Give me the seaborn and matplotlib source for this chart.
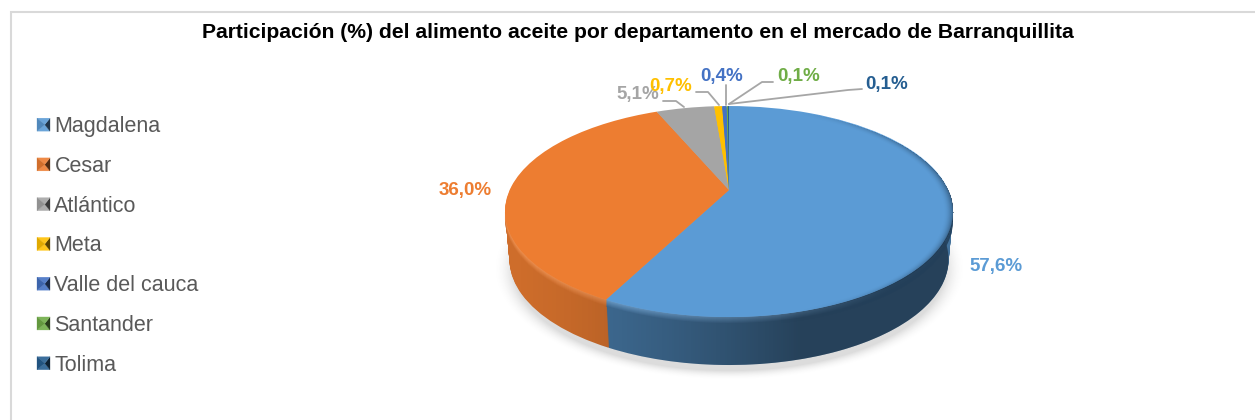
import numpy as np
import matplotlib
matplotlib.use("Agg")
import matplotlib.pyplot as plt
import seaborn as sns
from matplotlib.patches import Polygon
from matplotlib.transforms import Transform
from matplotlib.legend_handler import HandlerBase

title = "Participación (%) del alimento aceite por departamento en el mercado de Barranquillita"
departamentos = ["Magdalena", "Cesar", "Atlántico", "Meta", "Valle del cauca", "Santander", "Tolima"]
participacion = [57.6, 36.0, 5.1, 0.7, 0.4, 0.1, 0.1]
etiquetas = ["57,6%", "36,0%", "5,1%", "0,7%", "0,4%", "0,1%", "0,1%"]
colores = ["#5B9BD5", "#ED7D31", "#A5A5A5", "#FFC000", "#4472C4", "#70AD47", "#255E91"]

sns.set_theme(style="white")
plt.rcParams["font.family"] = ["Liberation Sans", "DejaVu Sans"]
palette = sns.color_palette(colores)

W, H = 1255, 420
fig = plt.figure(figsize=(W / 100, H / 100), dpi=100, facecolor="white")
ax = fig.add_axes([0, 0, 1, 1])


class Persp(Transform):
    """Projective view of the unit-circle pie into figure pixels."""
    input_dims = output_dims = 2
    is_separable = False
    has_inverse = False

    def __init__(self, dy=0.0, shrink=1.0):
        super().__init__()
        self.dy, self.shrink = dy, shrink

    def transform_non_affine(self, xy):
        xy = np.asarray(xy, float)
        d = 1 + 0.204 * xy[:, 1]
        return np.column_stack((729 + 219.3 * self.shrink * xy[:, 0] / d,
                                190 + self.dy - 101.1 * xy[:, 1] / d))


def mix(c, other, t):
    return tuple((1 - t) * np.array(c) + t * np.array(other))


def draw_pie(dy, shrink, color_fn, z):
    wedges, _ = ax.pie(participacion, startangle=90, counterclock=False, colors=palette)
    for i, (w, c) in enumerate(zip(wedges, palette)):
        w.set_facecolor(color_fn(i, c))
        w.set_edgecolor("none")
        w.set_linewidth(0)
        w.set_transform(Persp(dy, shrink) + ax.transData)
        w.set_zorder(z)
    return wedges


side_dark = [0.27, 0.13, 0.2, 0.2, 0.2, 0.2, 0.2]

# soft shadow below the disc
yy, xx = np.mgrid[0:H, 0:W]
dist = np.hypot((xx - 729) / 226.0, (yy - 268) / 107.0)
shadow = np.zeros((H, W, 4))
shadow[..., :3] = 0.55
shadow[..., 3] = np.clip((1.045 - dist) / 0.09, 0, 1) ** 2 * 0.30
ax.imshow(shadow, extent=(0, W, H, 0), zorder=0, interpolation="bilinear")

# side wall: stack of pies from the lower face upward
DEPTH = 48
for d in np.arange(DEPTH, 7, -1.0):
    s = 1 - 0.02 * np.clip(d / DEPTH, 0, 1)
    draw_pie(d, s, lambda i, c: mix(c, (0, 0, 0), side_dark[i]), 1)
# bevel under the top face
for d in np.arange(7, 0, -1.0):
    t = d / 7
    draw_pie(d, 1.0, lambda i, c, t=t: mix(mix(c, (1, 1, 1), 0.16), mix(c, (0, 0, 0), side_dark[i]), t), 2)

# darkening of the wall toward the right
grad_x = np.clip((np.arange(W) - 510) / 290.0, 0, 1) ** 1.4
shade = np.zeros((2, W, 4))
shade[..., 3] = grad_x * 0.42
ang = np.linspace(0, -np.pi, 200)
band_top = Persp().transform_non_affine(np.column_stack((np.cos(ang), np.sin(ang))))
band_low = band_top[::-1] + np.array([0, DEPTH])
band_low[:, 0] = 729 + (band_low[:, 0] - 729) * 0.98
clip_poly = Polygon(np.vstack((band_top, band_low)), closed=True, transform=ax.transData,
                    fc="none", ec="none")
ax.add_patch(clip_poly)
img = ax.imshow(shade, extent=(0, W, 400, 100), zorder=3, aspect="auto")
img.set_clip_path(clip_poly)

# the bevel itself fades into the dark wall at the right end
bevel_low = band_top[::-1] + np.array([0, 9])
bevel_poly = Polygon(np.vstack((band_top, bevel_low)), closed=True, transform=ax.transData,
                     fc="none", ec="none")
ax.add_patch(bevel_poly)
bevel_shade = np.zeros((2, W, 4))
bevel_shade[..., :3] = np.array([0.14, 0.25, 0.35])
bevel_shade[..., 3] = np.clip((np.arange(W) - 780) / 110.0, 0, 1) * 0.9
img2 = ax.imshow(bevel_shade, extent=(0, W, 400, 100), zorder=3.5, aspect="auto")
img2.set_clip_path(bevel_poly)

# top face
draw_pie(0, 1.0, lambda i, c: c, 4)

# right edge shading on the top face
edge = np.zeros((H, W, 4))
ed = np.hypot((xx - 729) / 224.0, (yy - 212) / 105.5)
edge[..., 3] = (np.clip((ed - 0.955) / 0.045, 0, 1) ** 2 * np.clip((xx - 800) / 150.0, 0, 1) * 0.6
                * (ed <= 1.0))
edge[..., :3] = np.array([0.12, 0.22, 0.32])
ax.imshow(edge, extent=(0, W, H, 0), zorder=5, interpolation="nearest")

ax.set_aspect("auto")
ax.set_xlim(0, W)
ax.set_ylim(H, 0)
ax.axis("off")

# chart frame
grey = "#D9D9D9"
ax.plot([10.5, 10.5, 1255], [420, 11.5, 11.5], color=grey, lw=1.5, solid_joinstyle="miter", zorder=6)

ax.text(637.5, 32, title, ha="center", va="center", fontsize=15.23, fontweight="bold",
        color="black", zorder=8)

# leader lines
lideres = [
    [(684, 107), (676, 101), (663, 101)],
    [(719, 105), (708, 92), (696, 92)],
    [(726, 105), (726, 85)],
    [(729, 104), (762, 82), (773, 82)],
    [(729, 104), (848, 90), (862, 89)],
]
for seg in lideres:
    xs, ys = zip(*seg)
    ax.plot(xs, ys, color="#A6A6A6", lw=1.3, zorder=6)

# data labels
pos = [(996, 266), (465, 190), (638, 95), (671, 86), (722, 76), (799, 76), (887, 84)]
for (x, y), txt, c in zip(pos, etiquetas, palette):
    ax.text(x, y, txt, ha="center", va="center", fontsize=13.5, fontweight="bold", color=c, zorder=8)


# legend with pyramid-shaded keys
class PyramidHandler(HandlerBase):
    def create_artists(self, legend, orig, xd, yd, width, height, fontsize, trans):
        c = orig.get_facecolor()[:3]
        s = 13.0 * 72 / 100
        x0, y0 = -xd, -yd + (height - s) / 2
        cx, cy = x0 + s * 0.6, y0 + s / 2
        corners = [(x0, y0), (x0 + s, y0), (x0 + s, y0 + s), (x0, y0 + s)]
        shades = [mix(c, (1, 1, 1), 0.1), mix(c, (0, 0, 0), 0.65), mix(c, (1, 1, 1), 0.1), mix(c, (0, 0, 0), 0.12)]
        arts = []
        for i, col in enumerate(shades):
            a, b = corners[i], corners[(i + 1) % 4]
            arts.append(Polygon([a, b, (cx, cy)], closed=True, fc=col, ec=col, lw=0.2, transform=trans))
        return arts


handles = [plt.Rectangle((0, 0), 1, 1, fc=c) for c in palette]
ax.legend(handles, departamentos, loc="upper left", bbox_to_anchor=(37 / W, 1 - 115 / H),
          bbox_transform=ax.transAxes, frameon=False, fontsize=15.5, labelcolor="#595959",
          handler_map={plt.Rectangle: PyramidHandler()}, handlelength=0.62, handleheight=1.0,
          handletextpad=0.19, labelspacing=0.825, borderpad=0, borderaxespad=0)

fig.savefig("out.png", dpi=100, facecolor="white")
